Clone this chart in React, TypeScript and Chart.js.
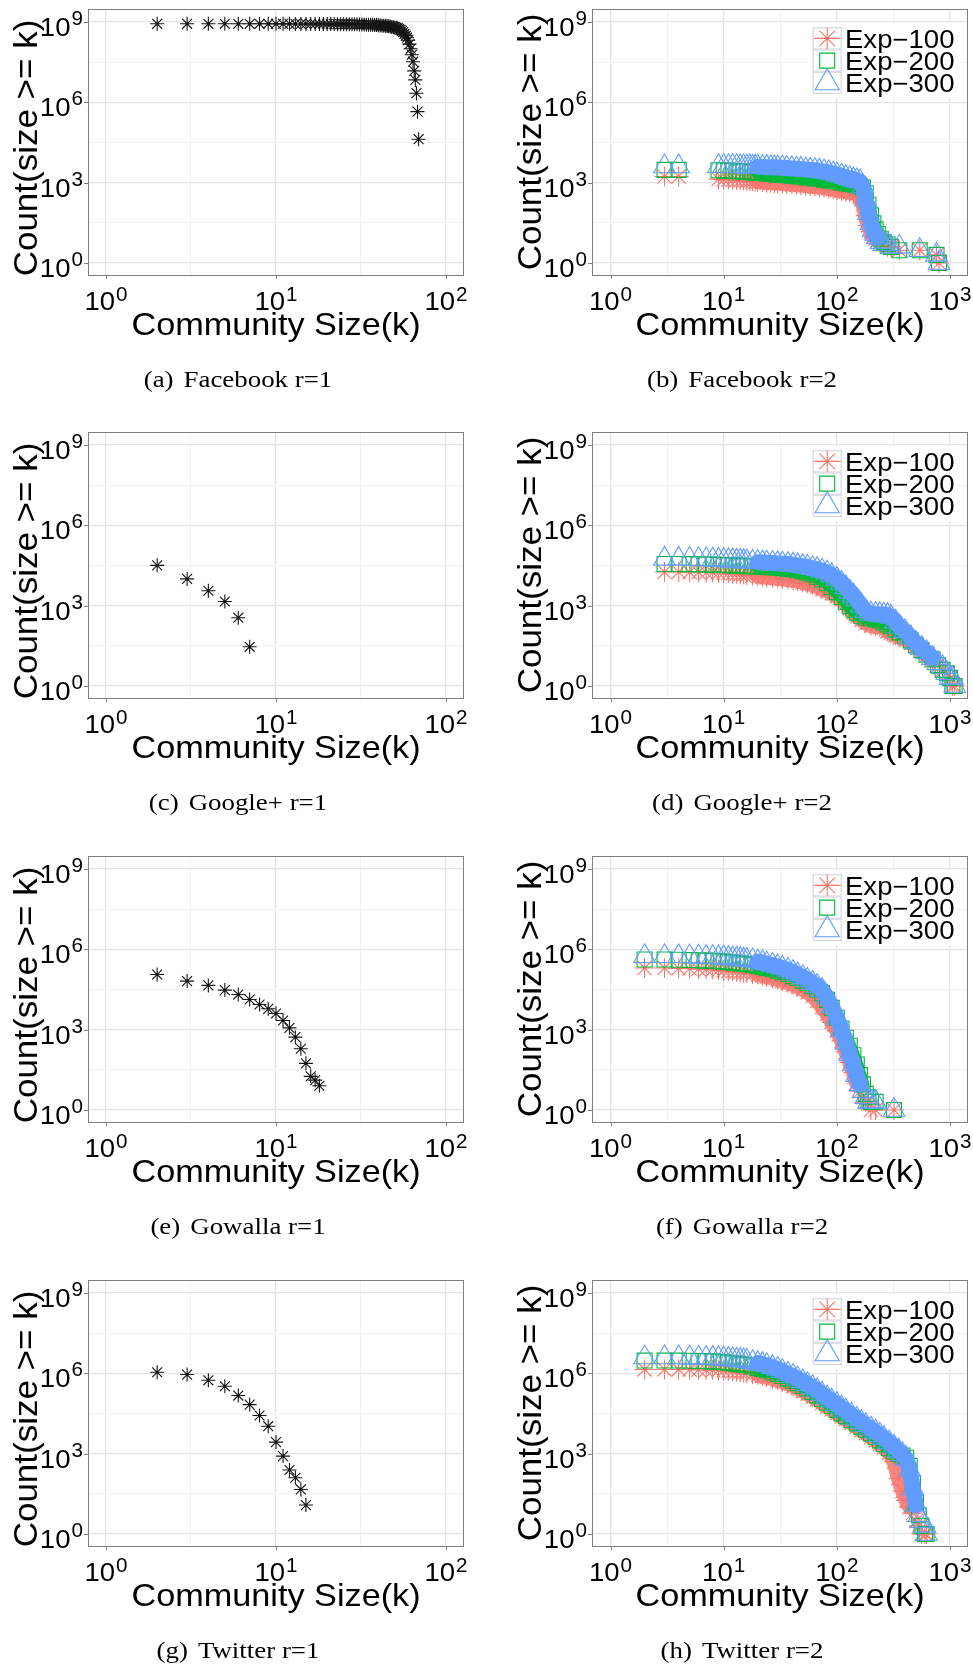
import React, { useEffect, useRef } from 'react';
import { Chart, registerables } from 'chart.js';

Chart.register(...registerables);

// Complementary cumulative community-size counts: Count(size >= k) against size k.

// (a) Facebook, r = 1
const FACEBOOK_R1_K = [2, 3, 4, 5, 6, 7, 8, 9, 10, 11, 12, 13, 14, 15, 16, 17, 18, 19, 20, 21, 22, 23, 24, 25, 26, 27, 28, 29, 30, 31, 32, 33, 34, 35, 36, 37, 38, 39, 40, 41, 42, 43, 44, 45, 46, 47, 48, 49, 50, 51, 52, 53, 54, 55, 56, 57, 58, 59, 60, 61, 62, 63, 64, 65, 66, 67, 68, 69];
const FACEBOOK_R1_COUNT = [
  8.6e8, 8.6e8, 8.6e8, 8.6e8, 8.6e8, 8.6e8, 8.6e8, 8.6e8,
  8.55e8, 8.55e8, 8.55e8,
  8.5e8, 8.5e8, 8.5e8, 8.5e8,
  8.45e8, 8.45e8, 8.45e8,
  8.4e8, 8.4e8, 8.4e8,
  8.35e8, 8.35e8, 8.3e8, 8.3e8, 8.25e8, 8.25e8, 8.2e8, 8.2e8,
  8.15e8, 8.1e8, 8.05e8, 8.0e8, 7.95e8, 7.9e8, 7.85e8, 7.8e8, 7.7e8, 7.6e8,
  7.5e8, 7.4e8, 7.3e8, 7.2e8, 7.05e8, 6.9e8, 6.75e8, 6.6e8, 6.45e8, 6.3e8,
  6.1e8, 5.9e8, 5.5e8, 5.1e8, 4.7e8, 4.2e8, 3.6e8, 3.1e8, 2.6e8, 2.1e8,
  1.5e8, 1.0e8, 6.0e7, 3.3e7, 1.5e7, 6.9e6, 2.2e6, 4.5e5, 4.2e4,
];

// (c) Google+, r = 1
const GOOGLE_R1_K = [2, 3, 4, 5, 6, 7];
const GOOGLE_R1_COUNT = [32000, 10000, 3600, 1430, 355, 29];

// (e) Gowalla, r = 1
const GOWALLA_R1_K = [2, 3, 4, 5, 6, 7, 8, 9, 10, 11, 12, 13, 14, 15, 16, 17, 18];
const GOWALLA_R1_COUNT = [115000, 65000, 45000, 30000, 20500, 13400, 8700, 6000, 4000, 2200, 1170, 525, 194, 55, 18, 13, 8];

// (g) Twitter, r = 1
const TWITTER_R1_K = [2, 3, 4, 5, 6, 7, 8, 9, 10, 11, 12, 13, 14, 15];
const TWITTER_R1_COUNT = [1100000, 900000, 550000, 330000, 148000, 68000, 26600, 10600, 2700, 810, 245, 126, 46, 12];

// (b) Facebook, r = 2
const FACEBOOK_R2_K = [3, 4, 9, 10, 11, 12, 13, 14, 15, 16, 17, 18, 19, 20, 22, 24, 26, 28, 30, 33, 36, 40, 44, 48, 53, 58, 64, 70, 77, 85, 93, 100, 110, 120, 130, 140, 150, 160, 170, 180, 190, 200, 210, 220, 230, 245, 260, 280, 300, 356, 540, 760, 800];
const FACEBOOK_R2_EXP100 = [
  1700, 1700, 1350, 1300, 1300, 1280, 1250, 1220, 1200, 1180, 1150, 1130, 1100, 1080,
  1050, 1020, 1000, 980, 960,
  930, 900, 870, 840, 810,
  780, 750, 720, 690, 650,
  610, 570, 530, 490, 460,
  440, 420, 380, 300, 160,
  60, 25, 15, 10, 8,
  7, 6, 5, 4, 4,
  3, 3, 2, 1,
];
const FACEBOOK_R2_EXP200 = [
  3000, 3000, 2900, 2850, 2800, 2750, 2700, 2650, 2600, 2550, 2500, 2450, 2400, 2350,
  2300, 2200, 2150, 2100, 2000,
  1950, 1900, 1800, 1750, 1700,
  1600, 1550, 1450, 1400, 1300,
  1200, 1150, 1100, 1000, 950,
  900, 850, 800, 750, 650,
  400, 150, 60, 30, 18,
  12, 8, 6, 5, 4,
  3, 3, 2, 1,
];
const FACEBOOK_R2_EXP300 = [
  4000, 4000, 4100, 4100, 4100, 4100, 4100, 4000, 4000, 4000, 4000, 3900, 3900, 3900,
  3850, 3800, 3750, 3700, 3650,
  3600, 3500, 3400, 3300, 3200,
  3100, 3000, 2900, 2800, 2600,
  2400, 2200, 2000, 1800, 1600,
  1450, 1300, 1200, 1100, 720,
  230, 73, 31, 17, 12,
  9, 6, 5, 5, 4,
  4, 3, 2, 1,
];

// (d) Google+, r = 2
const GOOGLE_R2_K = [3, 4, 5, 6, 7, 8, 9, 10, 11, 12, 13, 14, 15, 16, 18, 20, 22, 24, 27, 30, 33, 37, 41, 45, 50, 55, 61, 67, 74, 82, 90, 100, 110, 120, 130, 140, 150, 165, 180, 200, 220, 240, 260, 280, 300, 330, 360, 400, 450, 500, 560, 620, 700, 780, 860, 940, 1000, 1050, 1100];
const GOOGLE_R2_EXP100 = [
  18000, 18000, 17800, 17600, 17400, 17200, 17000, 16800, 16500, 16000, 15500, 15000, 14500, 14000,
  13300, 12700, 12000, 11500, 11000,
  10500, 10000, 9500, 9000, 8300,
  7500, 6800, 6000, 5200, 4200,
  3500, 2900, 2300, 1700, 1200,
  800, 550, 400, 290, 220,
  180, 170, 160, 150, 110,
  95, 80, 65, 55, 42,
  30, 20, 14, 9, 6,
  4, 3, 2, 1, 1,
];
const GOOGLE_R2_EXP200 = [
  36000, 36000, 35500, 35000, 34500, 34000, 33500, 33000, 32500, 32000, 31500, 31000, 30500, 30000,
  29500, 29000, 28500, 28000, 27000,
  26000, 25000, 24000, 22500, 21000,
  19000, 17000, 14500, 12000, 9500,
  7000, 5000, 3200, 2100, 1400,
  950, 700, 550, 420, 360,
  330, 310, 280, 240, 200,
  170, 130, 100, 75, 50,
  33, 22, 15, 10, 6,
  4, 3, 2, 1, 1,
];
const GOOGLE_R2_EXP300 = [
  56000, 56000, 55000, 54000, 53000, 52000, 51000, 50000, 49000, 48000, 47000, 46000, 45000, 44000,
  43000, 42000, 41000, 40000, 39000,
  38000, 37000, 36000, 34000, 32000,
  30000, 28000, 25000, 23000, 20000,
  17000, 13500, 10000, 7000, 4800,
  3300, 2400, 1700, 1000, 620,
  500, 480, 470, 460, 440,
  380, 250, 160, 110, 65,
  40, 26, 18, 11, 7,
  5, 3, 2, 2, 1,
];

// (f) Gowalla, r = 2
const GOWALLA_R2_K = [2, 3, 4, 5, 6, 7, 8, 9, 10, 11, 12, 13, 14, 15, 16, 18, 20, 22, 24, 27, 30, 33, 37, 41, 45, 50, 55, 61, 67, 74, 82, 90, 100, 110, 120, 130, 140, 150, 160, 170, 180, 190, 200, 220, 320];
const GOWALLA_R2_EXP100 = [
  200000, 200000, 195000, 190000, 185000, 180000, 175000, 170000, 160000, 155000, 150000, 145000, 140000, 135000, 130000,
  120000, 115000, 105000, 95000, 85000,
  75000, 65000, 56000, 48000, 40000,
  32000, 25000, 18000, 12000, 7000,
  3800, 1900, 900, 380, 150,
  60, 25, 10, 5, 3,
  2, 2, 1, 1, 1,
];
const GOWALLA_R2_EXP200 = [
  420000, 420000, 410000, 400000, 390000, 380000, 370000, 360000, 350000, 335000, 320000, 310000, 300000, 290000, 280000,
  260000, 240000, 220000, 200000, 180000,
  160000, 140000, 120000, 100000, 85000,
  68000, 55000, 42000, 32000, 23000,
  13000, 6500, 2800, 1100, 500,
  250, 110, 50, 20, 9,
  4, 3, 2, 2, 1,
];
const GOWALLA_R2_EXP300 = [
  550000, 550000, 550000, 540000, 530000, 520000, 510000, 500000, 490000, 470000, 450000, 440000, 430000, 410000, 400000,
  380000, 350000, 320000, 290000, 260000,
  230000, 200000, 170000, 140000, 115000,
  90000, 72000, 55000, 42000, 30000,
  16000, 7500, 2800, 1000, 320,
  120, 50, 20, 9, 5,
  3, 2, 2, 2, 1,
];

// (h) Twitter, r = 2
const TWITTER_R2_K = [2, 3, 4, 5, 6, 7, 8, 9, 10, 11, 12, 13, 14, 15, 16, 18, 20, 22, 24, 27, 30, 33, 37, 41, 45, 50, 55, 61, 67, 74, 82, 90, 100, 110, 120, 135, 150, 165, 180, 200, 220, 240, 260, 290, 320, 350, 380, 410, 440, 470, 500, 530, 560, 600, 620];
const TWITTER_R2_EXP100 = [
  1.4e6, 1.4e6, 1.4e6, 1.38e6, 1.36e6, 1.34e6, 1.32e6, 1.3e6, 1.27e6, 1.24e6, 1.2e6, 1.16e6, 1.12e6, 1.08e6, 1.04e6,
  9.5e5, 8.8e5, 8.0e5, 7.3e5, 6.4e5,
  5.6e5, 4.9e5, 4.1e5, 3.4e5, 2.8e5,
  2.2e5, 1.75e5, 1.35e5, 1.05e5, 7.8e4,
  5.8e4, 4.4e4, 3.3e4, 2.5e4, 1.95e4,
  1.4e4, 1.0e4, 7500, 5800, 4200,
  3100, 2300, 1700, 1100, 500,
  120, 40, 18, 10, 6,
  3, 2, 1, 1, 1,
];
const TWITTER_R2_EXP200 = [
  3.0e6, 3.0e6, 3.0e6, 2.95e6, 2.9e6, 2.85e6, 2.8e6, 2.7e6, 2.6e6, 2.5e6, 2.4e6, 2.3e6, 2.2e6, 2.1e6, 2.0e6,
  1.8e6, 1.6e6, 1.45e6, 1.3e6, 1.1e6,
  9.5e5, 8.0e5, 6.5e5, 5.3e5, 4.3e5,
  3.4e5, 2.7e5, 2.0e5, 1.5e5, 1.1e5,
  8.0e4, 6.0e4, 4.3e4, 3.2e4, 2.5e4,
  1.8e4, 1.35e4, 1.0e4, 7800, 5700,
  4200, 3100, 2300, 1600, 1200,
  1000, 850, 700, 350, 80,
  15, 5, 2, 1, 1,
];
const TWITTER_R2_EXP300 = [
  3.9e6, 3.9e6, 3.9e6, 3.85e6, 3.8e6, 3.75e6, 3.7e6, 3.6e6, 3.5e6, 3.4e6, 3.3e6, 3.2e6, 3.1e6, 3.0e6, 2.9e6,
  2.6e6, 2.4e6, 2.2e6, 2.0e6, 1.7e6,
  1.45e6, 1.2e6, 9.5e5, 7.8e5, 6.3e5,
  5.0e5, 3.9e5, 3.0e5, 2.3e5, 1.7e5,
  1.25e5, 9.5e4, 7.0e4, 5.2e4, 4.0e4,
  2.8e4, 2.0e4, 1.5e4, 1.15e4, 8500,
  6500, 5000, 3800, 2600, 1800,
  1300, 950, 650, 250, 50,
  12, 5, 3, 2, 1,
];

// Axis break exponents (labels read 10^e)
const Y_TICK_EXPONENTS = [0, 3, 6, 9];
const X_TICK_EXPONENTS_R1 = [0, 1, 2];
const X_TICK_EXPONENTS_R2 = [0, 1, 2, 3];

const X_TITLE = 'Community Size(k)';
const Y_TITLE = 'Count(size >= k)';
const SERIES_LABELS = ['Exp\u2212100', 'Exp\u2212200', 'Exp\u2212300'];

// ---- styling & layout ----
const FONT_SANS = '"Liberation Sans", Arial, Helvetica, sans-serif';
const FONT_SERIF = '"Liberation Serif", "Times New Roman", serif';
const EXP_COLORS = ['#F8766D', '#00BA38', '#619CFF'];
// colour of the merged marker band where sizes are so close that the outlines run together
const EXP_BAND_COLORS = ['rgba(248,118,109,0.85)', '#00BA38', '#619CFF'];
const EXP_BAND_WIDTHS = [15, 13, 16];
const EXP_SHAPES = ['star', 'rect', 'triangle'];
const EXP_RADII = [10, 10.6, 12.5];
const LEGEND_RADII = [11, 10.6, 14];
// markers merge into a band from this size on, while the count is still large
const BAND_FROM_K = 20;
const BAND_MIN_COUNT = 8;

const PAGE_W = 973;
const PAGE_H = 1664;
const PANEL_W = 374;
const PANEL_H = 265;
const COL_PANEL_LEFT = [89, 593];
const COL_CANVAS_LEFT = [0, 486];
const COL_CANVAS_W = [486, 487];
const ROW_PANEL_TOP = [10, 433, 857, 1281];
const CANVAS_TOP_PAD = 10;
const CANVAS_H = 393;
const Y_TITLE_OFFSET = [138, 132];

type Shape = 'star' | 'rect' | 'triangle';

interface SeriesDef {
  label: string;
  k: number[];
  count: number[];
  color: string;
  band: string | null;
  bandWidth: number;
  shape: Shape;
  radius: number;
  legendRadius: number;
  order: number;
}

interface PanelDef {
  id: string;
  caption: [string, string];
  row: number;
  col: number;
  xTicks: number[];
  series: SeriesDef[];
  legend: boolean;
}

function expSeries(k: number[], counts: number[][]): SeriesDef[] {
  return counts.map((c, i) => ({
    label: SERIES_LABELS[i],
    k,
    count: c,
    color: EXP_COLORS[i],
    band: EXP_BAND_COLORS[i],
    bandWidth: EXP_BAND_WIDTHS[i],
    shape: EXP_SHAPES[i] as Shape,
    radius: EXP_RADII[i],
    legendRadius: LEGEND_RADII[i],
    order: 3 - i,
  }));
}

function singleSeries(k: number[], count: number[]): SeriesDef[] {
  return [{ label: 'r=1', k, count, color: '#141414', band: null, bandWidth: 0, shape: 'star', radius: 7, legendRadius: 7, order: 1 }];
}

const PANELS: PanelDef[] = [
  { id: 'a', caption: ['(a)', 'Facebook r=1'], row: 0, col: 0, xTicks: X_TICK_EXPONENTS_R1, series: singleSeries(FACEBOOK_R1_K, FACEBOOK_R1_COUNT), legend: false },
  { id: 'b', caption: ['(b)', 'Facebook r=2'], row: 0, col: 1, xTicks: X_TICK_EXPONENTS_R2, series: expSeries(FACEBOOK_R2_K, [FACEBOOK_R2_EXP100, FACEBOOK_R2_EXP200, FACEBOOK_R2_EXP300]), legend: true },
  { id: 'c', caption: ['(c)', 'Google+ r=1'], row: 1, col: 0, xTicks: X_TICK_EXPONENTS_R1, series: singleSeries(GOOGLE_R1_K, GOOGLE_R1_COUNT), legend: false },
  { id: 'd', caption: ['(d)', 'Google+ r=2'], row: 1, col: 1, xTicks: X_TICK_EXPONENTS_R2, series: expSeries(GOOGLE_R2_K, [GOOGLE_R2_EXP100, GOOGLE_R2_EXP200, GOOGLE_R2_EXP300]), legend: true },
  { id: 'e', caption: ['(e)', 'Gowalla r=1'], row: 2, col: 0, xTicks: X_TICK_EXPONENTS_R1, series: singleSeries(GOWALLA_R1_K, GOWALLA_R1_COUNT), legend: false },
  { id: 'f', caption: ['(f)', 'Gowalla r=2'], row: 2, col: 1, xTicks: X_TICK_EXPONENTS_R2, series: expSeries(GOWALLA_R2_K, [GOWALLA_R2_EXP100, GOWALLA_R2_EXP200, GOWALLA_R2_EXP300]), legend: true },
  { id: 'g', caption: ['(g)', 'Twitter r=1'], row: 3, col: 0, xTicks: X_TICK_EXPONENTS_R1, series: singleSeries(TWITTER_R1_K, TWITTER_R1_COUNT), legend: false },
  { id: 'h', caption: ['(h)', 'Twitter r=2'], row: 3, col: 1, xTicks: X_TICK_EXPONENTS_R2, series: expSeries(TWITTER_R2_K, [TWITTER_R2_EXP100, TWITTER_R2_EXP200, TWITTER_R2_EXP300]), legend: true },
];

// Major breaks at the given decades, minor breaks half-way between them (log space).
function breakValues(exps: number[]) {
  const out: { value: number; major: boolean }[] = [];
  exps.forEach((e, i) => {
    out.push({ value: Math.pow(10, e), major: true });
    if (i < exps.length - 1) out.push({ value: Math.pow(10, (e + exps[i + 1]) / 2), major: false });
  });
  return out;
}

// 5% expansion of the decade range on either side
function expandedRange(exps: number[]) {
  const lo = exps[0];
  const hi = exps[exps.length - 1];
  const pad = (hi - lo) * 0.05;
  return [Math.pow(10, lo - pad), Math.pow(10, hi + pad)];
}

function textAt(ctx: CanvasRenderingContext2D, text: string, x: number, y: number, font: string, sx: number) {
  ctx.save();
  ctx.font = font;
  ctx.textAlign = 'left';
  ctx.textBaseline = 'alphabetic';
  ctx.translate(x, y);
  ctx.scale(sx, 1);
  ctx.fillText(text, 0, 0);
  ctx.restore();
}

function textWidth(ctx: CanvasRenderingContext2D, text: string, font: string, sx: number) {
  ctx.save();
  ctx.font = font;
  const w = ctx.measureText(text).width * sx;
  ctx.restore();
  return w;
}

function drawPower(ctx: CanvasRenderingContext2D, exp: number, x: number, baseY: number, supY: number, align: 'center' | 'right') {
  const sx = 1.06;
  const mainFont = `26px ${FONT_SANS}`;
  const supFont = `19.5px ${FONT_SANS}`;
  const w1 = textWidth(ctx, '10', mainFont, sx);
  const w2 = textWidth(ctx, String(exp), supFont, sx);
  const gap = 1;
  const total = w1 + gap + w2;
  const x0 = align === 'center' ? x - total / 2 : x - total;
  ctx.fillStyle = '#000';
  textAt(ctx, '10', x0, baseY, mainFont, sx);
  textAt(ctx, String(exp), x0 + w1 + gap, supY, supFont, sx);
}

function drawMarker(ctx: CanvasRenderingContext2D, shape: Shape, x: number, y: number, r: number) {
  ctx.beginPath();
  if (shape === 'star') {
    const d = Math.cos(Math.PI / 4) * r;
    ctx.moveTo(x - r, y); ctx.lineTo(x + r, y);
    ctx.moveTo(x, y - r); ctx.lineTo(x, y + r);
    ctx.moveTo(x - d, y - d); ctx.lineTo(x + d, y + d);
    ctx.moveTo(x - d, y + d); ctx.lineTo(x + d, y - d);
  } else if (shape === 'rect') {
    const s = Math.SQRT1_2 * r;
    ctx.rect(x - s, y - s, 2 * s, 2 * s);
  } else {
    const w = Math.sin((2 * Math.PI) / 3) * r;
    ctx.moveTo(x, y - r);
    ctx.lineTo(x + w, y + r / 2);
    ctx.lineTo(x - w, y + r / 2);
    ctx.closePath();
  }
  ctx.stroke();
}

function decorPlugin(def: PanelDef) {
  return {
    id: 'panelDecor',
    afterDraw(chart: any) {
      const ctx: CanvasRenderingContext2D = chart.ctx;
      const a = chart.chartArea;
      const xs = chart.scales.x;
      const ys = chart.scales.y;
      ctx.save();

      // panel border
      ctx.strokeStyle = '#7F7F7F';
      ctx.lineWidth = 1;
      ctx.strokeRect(a.left - 0.5, a.top - 0.5, a.right - a.left + 1, a.bottom - a.top + 1);

      // tick marks
      ctx.beginPath();
      def.xTicks.forEach((e) => {
        const x = Math.round(xs.getPixelForValue(Math.pow(10, e))) + 0.5;
        ctx.moveTo(x, a.bottom);
        ctx.lineTo(x, a.bottom + 4);
      });
      Y_TICK_EXPONENTS.forEach((e) => {
        const y = Math.round(ys.getPixelForValue(Math.pow(10, e))) + 0.5;
        ctx.moveTo(a.left - 1, y);
        ctx.lineTo(a.left - 5, y);
      });
      ctx.stroke();

      // tick labels
      def.xTicks.forEach((e) => {
        drawPower(ctx, e, xs.getPixelForValue(Math.pow(10, e)), a.bottom + 35, a.bottom + 25.5, 'center');
      });
      Y_TICK_EXPONENTS.forEach((e) => {
        const y = ys.getPixelForValue(Math.pow(10, e));
        drawPower(ctx, e, a.left - 6, y + 14, y + 3, 'right');
      });

      // axis titles
      ctx.fillStyle = '#000';
      const xFont = `32px ${FONT_SANS}`;
      const xw = textWidth(ctx, X_TITLE, xFont, 1.07);
      textAt(ctx, X_TITLE, (a.left + a.right) / 2 - xw / 2, a.bottom + 60, xFont, 1.07);

      const yFont = `33px ${FONT_SANS}`;
      const yw = textWidth(ctx, Y_TITLE, yFont, 1.06);
      ctx.save();
      ctx.translate(a.left - 52, a.top + Y_TITLE_OFFSET[def.col]);
      ctx.rotate(-Math.PI / 2);
      textAt(ctx, Y_TITLE, -yw / 2, 0, yFont, 1.06);
      ctx.restore();

      // legend in the top-right corner of the panel
      if (def.legend) {
        const R = a.right;
        const T = a.top;
        ctx.fillStyle = '#FFFFFF';
        ctx.fillRect(R - 159, T + 13, 148.5, 75);
        const keyX = R - 154.3;
        const keyW = 29;
        const keyH = 22.2;
        def.series.forEach((s, i) => {
          const ky = T + 17.3 + i * keyH;
          ctx.fillStyle = '#FFFFFF';
          ctx.fillRect(keyX, ky, keyW, keyH);
          ctx.strokeStyle = '#D0D0D0';
          ctx.lineWidth = 1;
          ctx.strokeRect(keyX + 0.5, ky + 0.5, keyW - 1, keyH - 1);
          const cx = keyX + keyW / 2;
          const cy = ky + keyH / 2;
          ctx.strokeStyle = s.color;
          ctx.lineWidth = 1.1;
          if (i === 0) {
            ctx.beginPath();
            ctx.moveTo(keyX + 1, cy);
            ctx.lineTo(keyX + keyW - 1, cy);
            ctx.stroke();
          }
          drawMarker(ctx, s.shape, cx, cy, s.legendRadius);
          ctx.fillStyle = '#000';
          textAt(ctx, s.label, R - 122, cy + 9.3, `25.5px ${FONT_SANS}`, 1.08);
        });
      }

      // caption under the panel
      const capFont = `24px ${FONT_SERIF}`;
      const capSx = 1.12;
      const gap = 10;
      const wLead = textWidth(ctx, def.caption[0], capFont, capSx);
      const wRest = textWidth(ctx, def.caption[1], capFont, capSx);
      const total = wLead + gap + wRest;
      const cx0 = a.left + 149 - total / 2;
      const capY = a.bottom + 112;
      ctx.fillStyle = '#000';
      textAt(ctx, def.caption[0], cx0, capY, capFont, capSx);
      textAt(ctx, def.caption[1], cx0 + wLead + gap, capY, capFont, capSx);

      ctx.restore();
    },
  };
}

function Panel({ def }: { def: PanelDef }) {
  const ref = useRef<HTMLCanvasElement | null>(null);
  const canvasLeft = COL_CANVAS_LEFT[def.col];
  const canvasW = COL_CANVAS_W[def.col];
  const panelTop = ROW_PANEL_TOP[def.row];
  const canvasTop = panelTop - CANVAS_TOP_PAD;

  useEffect(() => {
    const canvas = ref.current;
    if (!canvas) return;
    const [xMin, xMax] = expandedRange(def.xTicks);
    const [yMin, yMax] = expandedRange(Y_TICK_EXPONENTS);
    const xBreaks = breakValues(def.xTicks);
    const yBreaks = breakValues(Y_TICK_EXPONENTS);

    const datasets = def.series.map((s) => {
      const inBand = (i0: number, i1: number) => s.k[i0] >= BAND_FROM_K && s.count[i1] >= BAND_MIN_COUNT;
      return {
        label: s.label,
        data: s.k.map((x, i) => ({ x, y: s.count[i] })),
        showLine: s.band !== null,
        borderColor: s.band || s.color,
        borderWidth: s.bandWidth || 1,
        borderCapStyle: 'round',
        borderJoinStyle: 'round',
        segment: {
          borderColor: (c: any) => (s.band && inBand(c.p0DataIndex, c.p1DataIndex) ? s.band : 'rgba(0,0,0,0)'),
        },
        pointStyle: s.shape,
        pointRadius: s.radius,
        pointBorderWidth: 1.1,
        pointBorderColor: s.color,
        pointBackgroundColor: 'rgba(0,0,0,0)',
        order: s.order,
      };
    });

    const gridOpts = {
      drawTicks: false,
      color: (c: any) => (c.tick && c.tick.major ? '#E4E4E4' : '#F2F2F2'),
      lineWidth: (c: any) => (c.tick && c.tick.major ? 1.3 : 1.2),
    };

    const chart = new Chart(canvas, {
      type: 'scatter',
      data: { datasets },
      options: {
        responsive: false,
        animation: false,
        events: [],
        layout: {
          autoPadding: false,
          padding: {
            left: COL_PANEL_LEFT[def.col] - canvasLeft,
            right: canvasLeft + canvasW - (COL_PANEL_LEFT[def.col] + PANEL_W),
            top: CANVAS_TOP_PAD,
            bottom: CANVAS_H - CANVAS_TOP_PAD - PANEL_H,
          },
        },
        plugins: { legend: { display: false }, tooltip: { enabled: false } },
        scales: {
          x: {
            type: 'logarithmic',
            min: xMin,
            max: xMax,
            afterBuildTicks: (scale: any) => {
              scale.ticks = xBreaks.map((b) => ({ value: b.value, major: b.major }));
            },
            grid: gridOpts,
            border: { display: false },
            ticks: { display: false },
          },
          y: {
            type: 'logarithmic',
            min: yMin,
            max: yMax,
            afterBuildTicks: (scale: any) => {
              scale.ticks = yBreaks.map((b) => ({ value: b.value, major: b.major }));
            },
            grid: gridOpts,
            border: { display: false },
            ticks: { display: false },
          },
        },
      } as any,
      plugins: [decorPlugin(def)],
    });
    return () => chart.destroy();
  }, [def]);

  return (
    <canvas
      ref={ref}
      width={canvasW}
      height={CANVAS_H}
      style={{ position: 'absolute', left: canvasLeft, top: canvasTop, width: canvasW, height: CANVAS_H }}
    />
  );
}

export default function App() {
  return (
    <div style={{ position: 'absolute', left: 0, top: 0, width: PAGE_W, height: PAGE_H, background: '#fff', overflow: 'hidden' }}>
      {PANELS.map((p) => (
        <Panel key={p.id} def={p} />
      ))}
    </div>
  );
}
